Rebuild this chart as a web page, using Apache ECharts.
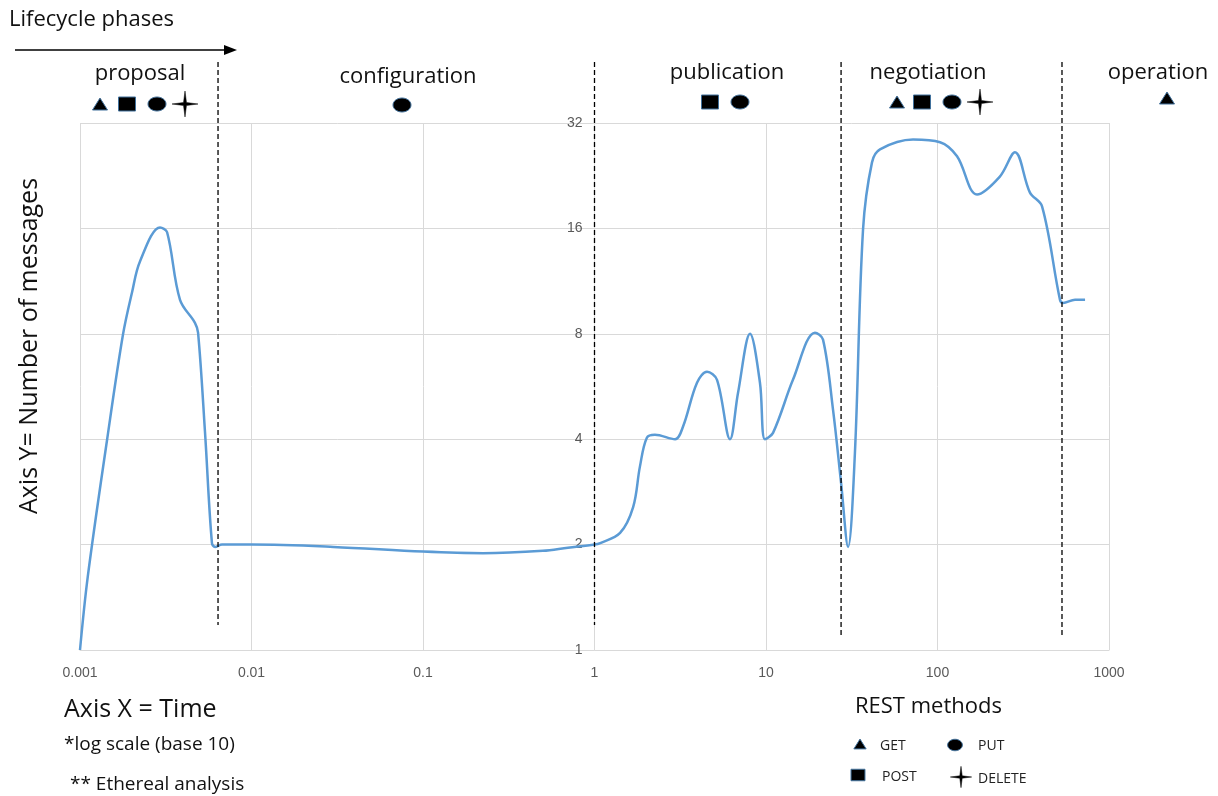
<!DOCTYPE html>
<html>
<head>
<meta charset="utf-8">
<script src="https://cdn.jsdelivr.net/npm/echarts@6/dist/echarts.min.js"></script>
<style>
html,body{margin:0;padding:0;background:#fff;}
#main{width:1218px;height:796px;}
</style>
</head>
<body>
<div id="main"></div>
<script>
// ---- data ----
const timeValues = [0.001, 0.00111, 0.00144, 0.00178, 0.00201, 0.00224, 0.00293, 0.00322, 0.00383, 0.00468, 0.00488, 0.00536, 0.00588, 0.00613, 0.00673,
  0.01, 0.03, 0.1, 0.224, 0.5, 0.7, 1.0, 1.08, 1.41, 1.68, 1.84, 2.02, 2.25, 2.95, 3.28, 3.96, 4.53, 5.18, 6.17, 6.87, 8.07, 9.22, 9.86,
  10.99, 14.36, 19.3, 21.5, 24.6, 27.4, 30.1, 33.0, 36.8, 41.5, 46.2, 72, 103.5, 130, 170, 231, 283, 346, 407, 518, 540, 634, 725];
const messageCounts = [1, 1.62, 4, 7.95, 10.5, 12.9, 16.1, 15.6, 10.0, 8.6, 8.06, 4.17, 2.02, 1.97, 2.0,
  2.0, 1.97, 1.91, 1.89, 1.92, 1.96, 2.0, 2.02, 2.16, 2.56, 3.34, 4.04, 4.12, 4.0, 4.34, 5.8, 6.23, 5.91, 4.0, 5.43, 8.0, 5.8, 4.0,
  4.17, 5.91, 8.06, 7.7, 4.85, 3.0, 1.97, 3.66, 15.9, 24.7, 26.9, 28.7, 28.2, 25.7, 20.0, 22.5, 26.4, 20.25, 18.5, 10.0, 9.8, 10.0, 10.0];
const xTickLabels = ['0.001', '0.01', '0.1', '1', '10', '100', '1000'];
const yTickLabels = ['1', '2', '4', '8', '16', '32'];
const phaseNames = ['proposal', 'configuration', 'publication', 'negotiation', 'operation'];
const phaseMethods = [['GET', 'POST', 'PUT', 'DELETE'], ['PUT'], ['POST', 'PUT'], ['GET', 'POST', 'PUT', 'DELETE'], ['GET']];
const phaseBoundaries = [0.00638, 1.0, 27.4, 532];
const restMethods = ['GET', 'PUT', 'POST', 'DELETE'];

// ---- chart ----
const chart = echarts.init(document.getElementById('main'), null, {renderer: 'canvas'});
const G = {left: 80, right: 109, top: 123, bottom: 146};
const gridW = 1218 - G.left - G.right;
const FONT = '"Open Sans", "Liberation Sans", sans-serif';
const NUMFONT = '"Liberation Sans Narrow", "Liberation Sans", sans-serif';

chart.setOption({
  animation: false,
  grid: {left: G.left, right: G.right, top: G.top, bottom: G.bottom, containLabel: false},
  xAxis: {
    type: 'log', logBase: 10, min: 0.001, max: 1000, splitNumber: 6,
    axisLine: {show: true, lineStyle: {color: '#d9d9d9', width: 1}},
    axisTick: {show: false},
    axisLabel: {color: '#595959', fontSize: 14, fontFamily: NUMFONT, margin: 16,
      formatter: function (v) {
        const e = Math.round(Math.log10(v));
        return xTickLabels[e + 3] !== undefined ? xTickLabels[e + 3] : '';
      }},
    splitLine: {show: true, lineStyle: {color: '#d9d9d9', width: 1}}
  },
  yAxis: {
    type: 'log', logBase: 2, min: 1, max: 32, splitNumber: 5,
    offset: -(gridW / 2),
    axisLine: {show: false},
    axisTick: {show: false},
    axisLabel: {color: '#595959', fontSize: 14, fontFamily: NUMFONT, margin: 12,
      formatter: function (v) {
        const e = Math.round(Math.log2(v));
        return yTickLabels[e] !== undefined ? yTickLabels[e] : '';
      }},
    splitLine: {show: true, lineStyle: {color: '#d9d9d9', width: 1}}
  },
  series: [{
    type: 'line',
    data: timeValues.map((t, i) => [t, messageCounts[i]]),
    smooth: 0.35,
    showSymbol: false,
    symbol: 'none',
    lineStyle: {color: '#5b9bd5', width: 2.5},
    clip: false
  }]
});

// ---- annotation helpers ----
const SYM_FILL = '#000';
const SYM_STROKE = '#41719c';
function tri(cx, cy, w, h) {
  return {type: 'polygon', shape: {points: [[cx, cy - h / 2], [cx + w / 2, cy + h / 2], [cx - w / 2, cy + h / 2]]},
    style: {fill: SYM_FILL, stroke: SYM_STROKE, lineWidth: 1}, z: 100};
}
function sq(cx, cy, w, h) {
  return {type: 'rect', shape: {x: cx - w / 2, y: cy - h / 2, width: w, height: h},
    style: {fill: SYM_FILL, stroke: SYM_STROKE, lineWidth: 1}, z: 100};
}
function ell(cx, cy, rx, ry) {
  return {type: 'ellipse', shape: {cx: cx, cy: cy, rx: rx, ry: ry},
    style: {fill: SYM_FILL, stroke: SYM_STROKE, lineWidth: 1}, z: 100};
}
function star(cx, cy, r) {
  const ri = r * 0.16;
  const pts = [];
  for (let k = 0; k < 8; k++) {
    const a = -Math.PI / 2 + k * Math.PI / 4;
    const rr = (k % 2 === 0) ? r : ri;
    pts.push([cx + rr * Math.cos(a), cy + rr * Math.sin(a)]);
  }
  return {type: 'polygon', shape: {points: pts}, style: {fill: '#000', stroke: '#000', lineWidth: 0.5}, z: 100};
}
function symbolFor(name, cx, cy, big) {
  const k = big ? 1 : 0.82;
  if (name === 'GET') return tri(cx, cy, 15 * k, 12 * k);
  if (name === 'POST') return sq(cx, cy, 17 * k, 14 * k);
  if (name === 'PUT') return ell(cx, cy, 9 * k, 7 * k);
  return star(cx, cy, 13 * k);
}
function txt(s, x, y, size, opts) {
  return Object.assign({type: 'text', x: x, y: y, z: 100,
    style: Object.assign({text: s, font: size + 'px ' + FONT, fill: '#000', textAlign: 'left', textVerticalAlign: 'middle'}, opts || {})});
}

const g = [];
// header arrow
g.push(txt('Lifecycle phases', 9, 20, 22, {fill: '#111'}));
g.push({type: 'line', shape: {x1: 15, y1: 50, x2: 226, y2: 50}, style: {stroke: '#000', lineWidth: 1.5}, z: 100});
g.push({type: 'polygon', shape: {points: [[237, 50], [224, 45], [224, 55]]}, style: {fill: '#000'}, z: 100});

// phase labels & methods
const phaseLabelPos = [[140, 74], [408, 77], [727, 73], [928, 73], [1158, 73]];
const phaseSymbolPos = [[[100, 104], [127, 104], [157, 104], [185, 104]], [[402, 105]], [[710, 102], [740, 102]],
  [[897, 102], [922, 102], [952, 102], [980, 102]], [[1167, 98]]];
phaseNames.forEach((p, i) => {
  g.push(txt(p, phaseLabelPos[i][0], phaseLabelPos[i][1], 22, {textAlign: 'center', fill: '#111'}));
  phaseMethods[i].forEach((m, j) => g.push(symbolFor(m, phaseSymbolPos[i][j][0], phaseSymbolPos[i][j][1], true)));
});

// phase boundary dashed lines
const boundaryBottoms = [625, 625, 635, 635];
phaseBoundaries.forEach((b, i) => {
  const px = chart.convertToPixel({xAxisIndex: 0}, b);
  g.push({type: 'line', shape: {x1: px, y1: 62, x2: px, y2: boundaryBottoms[i]},
    style: {stroke: '#000', lineWidth: 1.3, lineDash: [5, 3]}, z: 90});
});

// axis titles
g.push({type: 'text', x: 30, y: 346, rotation: Math.PI / 2, z: 100,
  style: {text: 'Axis Y= Number of messages', font: '25px ' + FONT, fill: '#111', textAlign: 'center', textVerticalAlign: 'middle'}});
g.push(txt('Axis X = Time', 64, 710, 25, {fill: '#111'}));
g.push(txt('*log scale (base 10)', 64, 745, 19, {fill: '#111'}));
g.push(txt('** Ethereal analysis', 70, 785, 19, {fill: '#111'}));

// legend
g.push(txt('REST methods', 855, 707, 22, {fill: '#111'}));
const legendPos = {GET: [[860, 744], [880, 746]], PUT: [[955, 745], [978, 746]], POST: [[858, 775], [882, 777]], DELETE: [[961, 777], [978, 779]]};
restMethods.forEach(m => {
  const p = legendPos[m];
  g.push(symbolFor(m, p[0][0], p[0][1], false));
  g.push(txt(m, p[1][0], p[1][1], 14, {fill: '#222'}));
});

chart.setOption({graphic: g});
</script>
</body>
</html>
